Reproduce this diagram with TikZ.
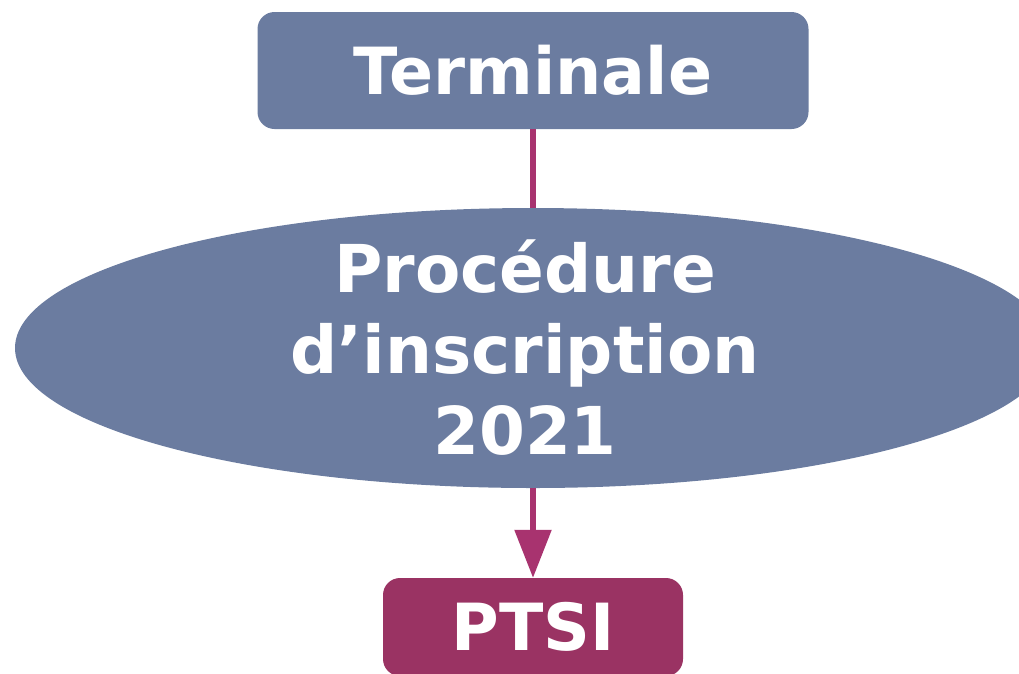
\documentclass[tikz,border=0pt]{standalone}
\usepackage{fontspec}
\setmainfont{DejaVu Sans}
\usetikzlibrary{shapes.geometric,arrows.meta}
\definecolor{slate}{HTML}{6B7CA0}
\definecolor{plum}{HTML}{9A3363}
\definecolor{linkc}{HTML}{A8336F}
\tikzset{
  box/.style={rectangle, rounded corners=17pt, fill=slate, text=white, inner sep=0pt,
    font=\fontsize{65}{78}\selectfont\bfseries},
  oval/.style={ellipse, fill=slate, inner sep=0pt},
  ovaltext/.style={text=white, inner sep=0pt, align=center,
    font=\fontsize{66}{81}\selectfont\bfseries},
  link/.style={draw=linkc, line width=5.5pt}
}
\begin{document}
\begin{tikzpicture}[x=1pt,y=-1pt]
\useasboundingbox (0,0) rectangle (1019,673);
\clip (0,0) rectangle (1019,673);
\node[box, minimum width=551pt, minimum height=117pt] (term) at (533,70.5) {Terminale};
\node[oval, minimum width=1036pt, minimum height=280pt] (proc) at (533,348) {};
\node[ovaltext] (proctext) at (525,348) {Procédure\\d’inscription\\2021};
\node[box, fill=plum, minimum width=300pt, minimum height=98pt] (ptsi) at (533,627) {PTSI};
\draw[link] (term.south) -- (proc.north);
\draw[link, -{Triangle[width=36pt,length=48pt]}] (proc.south) -- (ptsi.north);
\end{tikzpicture}
\end{document}
